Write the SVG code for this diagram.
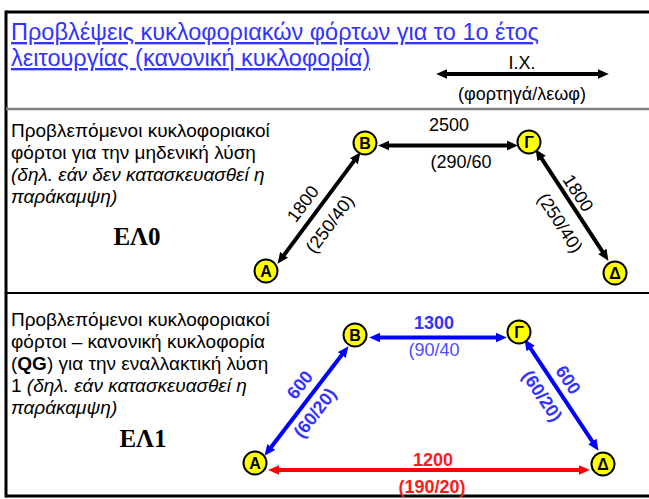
<svg xmlns="http://www.w3.org/2000/svg" width="649" height="499" viewBox="0 0 649 499">
<style>
text{font-family:"Liberation Sans",Arial,sans-serif;}
.title{font-size:23.5px;fill:#3333ff;text-decoration:underline;}
.body{font-size:19px;fill:#000;}
.it{font-style:italic;}
.el{font-family:"Liberation Serif","Times New Roman",serif;font-weight:bold;font-size:25px;fill:#000;}
.lab{font-size:18px;fill:#000;text-anchor:middle;}
.blab{font-size:18px;fill:#3333ff;text-anchor:middle;font-weight:bold;}
.blabn{font-size:18px;fill:#4d4dff;text-anchor:middle;}
.rlab{font-size:18px;fill:#ff1a1a;text-anchor:middle;font-weight:bold;}
.node circle{fill:#ffff00;stroke:#000;stroke-width:2;}
.node text{font-size:16px;font-weight:bold;text-anchor:middle;fill:#000;}
.k{stroke:#000;stroke-width:4;fill:none;marker-start:url(#ak);marker-end:url(#ak);}
.b{stroke:#0000ff;stroke-width:4;fill:none;marker-start:url(#ab);marker-end:url(#ab);}
.r{stroke:#ff0000;stroke-width:4;fill:none;marker-start:url(#ar);marker-end:url(#ar);}
</style>
<defs>
<marker id="ak" viewBox="0 0 10 10" refX="2" refY="5" markerWidth="11" markerHeight="11" markerUnits="userSpaceOnUse" orient="auto-start-reverse"><path d="M0,0.5 L10,5 L0,9.5 z" fill="#000"/></marker>
<marker id="ab" viewBox="0 0 10 10" refX="2" refY="5" markerWidth="11" markerHeight="11" markerUnits="userSpaceOnUse" orient="auto-start-reverse"><path d="M0,0.5 L10,5 L0,9.5 z" fill="#0000ff"/></marker>
<marker id="ar" viewBox="0 0 10 10" refX="2" refY="5" markerWidth="11" markerHeight="11" markerUnits="userSpaceOnUse" orient="auto-start-reverse"><path d="M0,0.5 L10,5 L0,9.5 z" fill="#ff0000"/></marker>
</defs>
<rect width="649" height="499" fill="#fff"/>
<g id="frame">
<line x1="6" y1="12" x2="649" y2="12" stroke="#000" stroke-width="3"/>
<line x1="6" y1="10.5" x2="6" y2="497.5" stroke="#000" stroke-width="3"/>
<line x1="6" y1="496" x2="649" y2="496" stroke="#000" stroke-width="3"/>
<line x1="6" y1="109" x2="649" y2="109" stroke="#808080" stroke-width="2.5"/>
<line x1="6" y1="293" x2="649" y2="293" stroke="#000" stroke-width="2"/>
</g>
<g id="header">
<text class="title" x="11" y="40">Προβλέψεις κυκλοφοριακών φόρτων για το 1ο έτος</text>
<text class="title" x="11" y="66">λειτουργίας (κανονική κυκλοφορία)</text>
<text class="lab" x="522" y="69" font-size="18.5">Ι.Χ.</text>
<text class="lab" x="522" y="100" font-size="18.5">(φορτηγά/λεωφ)</text>
</g>
<g id="panel0-text">
<text class="body" x="11" y="137">Προβλεπόμενοι κυκλοφοριακοί</text>
<text class="body" x="11" y="159">φόρτοι για την μηδενική λύση</text>
<text class="body it" x="11" y="181">(δηλ. εάν δεν κατασκευασθεί η</text>
<text class="body it" x="11" y="203">παράκαμψη)</text>
<text class="el" x="137" y="245" text-anchor="middle">ΕΛ0</text>
</g>
<g id="panel1-text">
<text class="body" x="11" y="326">Προβλεπόμενοι κυκλοφοριακοί</text>
<text class="body" x="11" y="348">φόρτοι – κανονική κυκλοφορία</text>
<text class="body" x="11" y="370">(<tspan font-weight="bold">QG</tspan>) για την εναλλακτική λύση</text>
<text class="body" x="11" y="392">1 <tspan class="it">(δηλ. εάν κατασκευασθεί η</tspan></text>
<text class="body it" x="11" y="414">παράκαμψη)</text>
<text class="el" x="143" y="447" text-anchor="middle">ΕΛ1</text>
</g>
<g id="connectors">
<line class="k" x1="445" y1="74" x2="600" y2="74"/>
<line class="k" x1="387" y1="145.5" x2="509" y2="145.5"/>
<line class="k" x1="282.8" y1="256.6" x2="355.2" y2="159.4"/>
<line class="k" x1="540.4" y1="156.7" x2="603.6" y2="253.3"/>
<line class="b" x1="378" y1="337.5" x2="498" y2="337.5"/>
<line class="b" x1="269.9" y1="448.7" x2="343.1" y2="353.3"/>
<line class="b" x1="529.4" y1="346.7" x2="593.6" y2="443.3"/>
<line class="r" x1="277" y1="470" x2="581" y2="470"/>
</g>
<g id="labels0">
<text class="lab" x="449" y="131">2500</text>
<text class="lab" x="461" y="168">(290/60</text>
<text class="lab" transform="translate(303,204) rotate(-53)" y="6">1800</text>
<text class="lab" transform="translate(330,224) rotate(-53)" y="6">(250/40)</text>
<text class="lab" transform="translate(578,193) rotate(57)" y="6">1800</text>
<text class="lab" transform="translate(560,223) rotate(57)" y="6">(250/40)</text>
</g>
<g id="labels1">
<text class="blab" x="434" y="329">1300</text>
<text class="blabn" x="434" y="356">(90/40</text>
<text class="blab" transform="translate(300,385) rotate(-52.5)" y="6">600</text>
<text class="blab" transform="translate(315,413) rotate(-52.5)" y="6">(60/20)</text>
<text class="blab" transform="translate(568,380) rotate(56.5)" y="6">600</text>
<text class="blab" transform="translate(542,396) rotate(56.5)" y="6">(60/20)</text>
<text class="rlab" x="433" y="466">1200</text>
<text class="rlab" x="432" y="493">(190/20)</text>
</g>
<g id="n0A" class="node"><circle cx="266" cy="271" r="11.5"/><text x="266" y="277">Α</text></g>
<g id="n0B" class="node"><circle cx="365" cy="143" r="11.5"/><text x="365" y="149">Β</text></g>
<g id="n0G" class="node"><circle cx="529" cy="142" r="11.5"/><text x="529" y="148">Γ</text></g>
<g id="n0D" class="node"><circle cx="615" cy="273" r="11.5"/><text x="615" y="279">Δ</text></g>
<g id="n1A" class="node"><circle cx="255" cy="463" r="11.5"/><text x="255" y="469">Α</text></g>
<g id="n1B" class="node"><circle cx="355" cy="335" r="11.5"/><text x="355" y="341">Β</text></g>
<g id="n1G" class="node"><circle cx="519" cy="332" r="11.5"/><text x="519" y="338">Γ</text></g>
<g id="n1D" class="node"><circle cx="603" cy="464" r="11.5"/><text x="603" y="470">Δ</text></g>
</svg>
